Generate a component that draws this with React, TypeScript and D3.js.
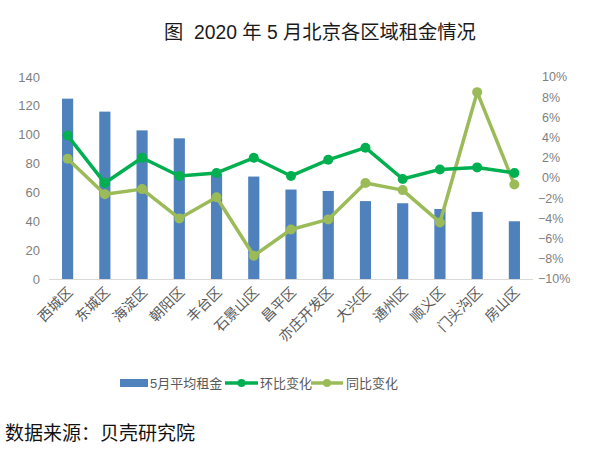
import React from "react"
import * as d3 from "d3"

const districts = ["西城区", "东城区", "海淀区", "朝阳区", "丰台区", "石景山区", "昌平区", "亦庄开发区", "大兴区", "通州区", "顺义区", "门头沟区", "房山区"]
const rent = [125, 116, 103, 97.5, 73, 71, 62, 61, 54, 52.5, 48.5, 46.5, 40]
const mom = [4.2, -0.5, 2.0, 0.2, 0.5, 2.0, 0.2, 1.8, 3.0, -0.1, 0.85, 1.05, 0.5]
const yoy = [1.9, -1.6, -1.1, -4.0, -1.9, -7.7, -5.1, -4.1, -0.5, -1.2, -4.4, 8.5, -0.65]
const leftTicks = [0, 20, 40, 60, 80, 100, 120, 140]
const rightTicks = [-10, -8, -6, -4, -2, 0, 2, 4, 6, 8, 10]

const BAR = "#4f81bd"
const MOM = "#00b050"
const YOY = "#9bbb59"
const FONT = "'Liberation Sans', 'Noto Sans CJK SC', sans-serif"

const App = () => {
  const x = d3.scaleBand().domain(districts).range([49, 533]).paddingInner(0.7).paddingOuter(0.35)
  const yL = d3.scaleLinear().domain([0, 140]).range([279, 77])
  const yR = d3.scaleLinear().domain([-10, 10]).range([279, 77])
  const cx = (d: string) => (x(d) as number) + x.bandwidth() / 2

  const momLine = d3.line<number>().x((_, i) => cx(districts[i])).y((v) => yR(v))
  const yoyLine = d3.line<number>().x((_, i) => cx(districts[i])).y((v) => yR(v))

  return (
    <div style={{ position: "absolute", left: 0, top: 0 }}>
      <svg width={600} height={450} style={{ fontFamily: FONT, display: "block", background: "#fff" }}>
        <text x={320} y={39} textAnchor="middle" fontSize={19.3} fill="#1a1a1a" style={{ whiteSpace: "pre" }}>
          {"图  2020 年 5 月北京各区域租金情况"}
        </text>

        {/* left axis */}
        {leftTicks.map((t) => (
          <text key={t} x={40} y={yL(t)} dy="0.35em" textAnchor="end" fontSize={13} fill="#7f7f7f">
            {t}
          </text>
        ))}
        {/* right axis */}
        {rightTicks.map((t) => (
          <text key={t} x={t < 0 ? 538 : 542} y={yR(t)} dy="0.35em" textAnchor="start" fontSize={12.5} fill="#7f7f7f">
            {(t < 0 ? "−" + Math.abs(t) : t) + "%"}
          </text>
        ))}

        {rent.map((v, i) => (
          <rect key={i} x={x(districts[i])} y={yL(v)} width={x.bandwidth()} height={yL(0) - yL(v)} fill={BAR} />
        ))}

        <line x1={49} x2={533} y1={279.5} y2={279.5} stroke="#d9d9d9" strokeWidth={1} />

        {districts.map((d) => (
          <text key={d} transform={`translate(${cx(d) + 6},${293}) rotate(-45)`} textAnchor="end" fontSize={14} fill="#595959">
            {d}
          </text>
        ))}

        <path d={yoyLine(yoy) || ""} fill="none" stroke={YOY} strokeWidth={3.5} strokeLinejoin="round" />
        {yoy.map((v, i) => (
          <circle key={i} cx={cx(districts[i])} cy={yR(v)} r={5} fill={YOY} />
        ))}
        <path d={momLine(mom) || ""} fill="none" stroke={MOM} strokeWidth={3.5} strokeLinejoin="round" />
        {mom.map((v, i) => (
          <circle key={i} cx={cx(districts[i])} cy={yR(v)} r={5} fill={MOM} />
        ))}

        {/* legend */}
        <rect x={120} y={379} width={28} height={8} fill={BAR} />
        <text x={150} y={383} dy="0.35em" fontSize={13} fill="#595959">5月平均租金</text>
        <line x1={225} x2={258} y1={383} y2={383} stroke={MOM} strokeWidth={3.5} />
        <circle cx={241.5} cy={383} r={4} fill={MOM} />
        <text x={260} y={383} dy="0.35em" fontSize={13} fill="#595959">环比变化</text>
        <line x1={311} x2={343} y1={383} y2={383} stroke={YOY} strokeWidth={3.5} />
        <circle cx={327} cy={383} r={4} fill={YOY} />
        <text x={346} y={383} dy="0.35em" fontSize={13} fill="#595959">同比变化</text>

        <text x={5} y={440} fontSize={19} fill="#111">数据来源：贝壳研究院</text>
      </svg>
    </div>
  )
}

export default App
